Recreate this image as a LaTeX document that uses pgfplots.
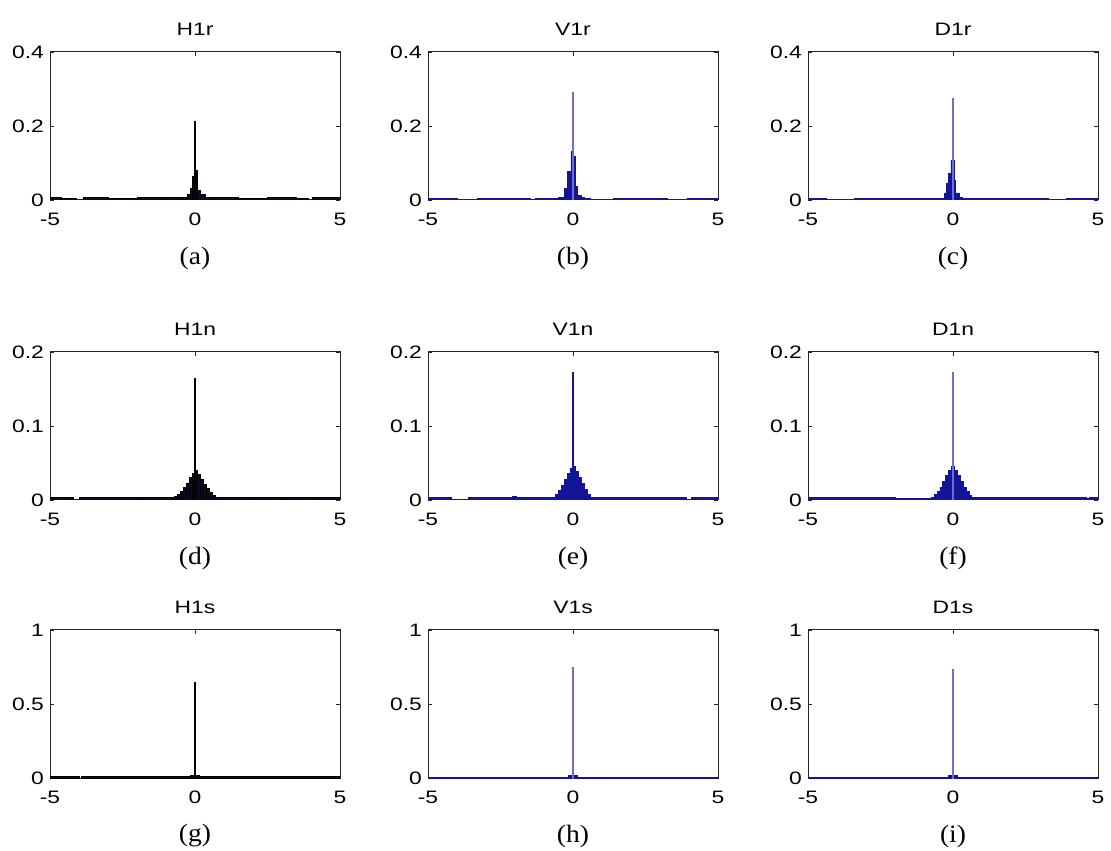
\documentclass[border=0pt]{standalone}
\usepackage{fontspec}
\setmainfont{Liberation Sans}
\newfontfamily\tickfont[FakeStretch=1.27]{Liberation Sans}
\newfontfamily\capfont[FakeStretch=1.1]{Liberation Serif}
\usepackage{pgfplots}
\pgfplotsset{compat=1.18}
\definecolor{hblack}{RGB}{10,10,35}
\definecolor{hblue}{RGB}{20,20,150}
\definecolor{hspike}{RGB}{110,110,210}

\pgfplotsset{
  panel/.style={
    scale only axis, width=145pt, height=74pt, anchor=south west,
    xmin=-5, xmax=5, ymin=0, xtick={-5,0,5},
    tick align=inside, tick pos=both, major tick length=2pt,
    axis line style={black!85, line width=0.5pt},
    tick style={black!85},
    /pgf/number format/assume math mode=true,
    ticklabel style={font=\tickfont\fontsize{9}{10}\selectfont},
    xticklabel style={yshift=-3pt},
    yticklabel style={xshift=0.5pt},
    title style={font=\tickfont\fontsize{9}{10}\selectfont, yshift=-1.5pt},
    xlabel style={font=\capfont\fontsize{12.5}{14}\selectfont,
      at={(axis description cs:0.5,0)}, anchor=center, yshift=-29pt},
  },
  kbars/.style={ybar interval, fill=hblack, draw=black, line width=0.45pt},
  bbars/.style={ybar interval, fill=hblue, draw=hblue, line width=0.45pt},
  lspike/.style={ybar interval, fill=hspike, draw=hspike, line width=0.3pt},
}

\begin{document}
\begin{tikzpicture}
\useasboundingbox (0,0) rectangle (555.5pt,425pt);

% ---- row 1 ----
\begin{axis}[panel, at={(25pt,325pt)}, ymax=0.4, ytick={0,0.2,0.4},
  title={H1r}, xlabel={(a)}]
\addplot[kbars] coordinates {(-5,0.006) (-4.6,0.005) (-4.1,0) (-3.85,0.006)
  (-3,0.005) (-2,0.006) (-1,0.006) (-0.49,0.008) (-0.26,0.014) (-0.17,0.032)
  (-0.09,0.063) (-0.01,0.063) (0.01,0.081) (0.09,0.027) (0.20,0.014)
  (0.37,0.008) (0.66,0.006) (1.5,0.005) (2.5,0.006) (3.5,0.005) (3.9,0)
  (4.05,0.006) (5,0)};
\addplot[kbars] coordinates {(-0.012,0.212) (0.012,0)};
\end{axis}

\begin{axis}[panel, at={(214pt,325pt)}, ymax=0.4, ytick={0,0.2,0.4},
  title={V1r}, xlabel={(b)}]
\addplot[bbars] coordinates {(-5,0.005) (-4.3,0.003) (-4.0,0) (-3.3,0.005)
  (-2.2,0.004) (-1.48,0) (-1.3,0.004) (-0.5,0.006) (-0.4,0.008) (-0.3,0.032)
  (-0.2,0.077) (-0.07,0.130) (-0.015,0.120) (0.015,0.117) (0.07,0.036)
  (0.17,0.013) (0.28,0.006) (0.40,0.003) (0.6,0.001) (1.38,0.005)
  (2.4,0.004) (3.24,0) (3.93,0.005) (5,0)};
\addplot[lspike] coordinates {(-0.008,0.29) (0.008,0)};
\end{axis}

\begin{axis}[panel, at={(404pt,325pt)}, ymax=0.4, ytick={0,0.2,0.4},
  title={D1r}, xlabel={(c)}]
\addplot[bbars] coordinates {(-5,0.005) (-4.35,0.002) (-4.1,0) (-3.4,0.005)
  (-2.5,0.004) (-1.5,0.005) (-0.45,0.004) (-0.30,0.019) (-0.22,0.045)
  (-0.15,0.072) (-0.07,0.108) (-0.01,0.108) (0.01,0.108) (0.04,0.054)
  (0.10,0.019) (0.22,0.006) (0.33,0.004) (1.2,0.005) (2.5,0.004)
  (3.3,0.002) (3.6,0) (3.9,0.005) (5,0)};
\addplot[lspike] coordinates {(-0.008,0.275) (0.008,0)};
\end{axis}

% ---- row 2 ----
\begin{axis}[panel, at={(25pt,175pt)}, ymax=0.2, ytick={0,0.1,0.2},
  title={H1n}, xlabel={(d)}]
\addplot[kbars] coordinates {(-5,0.003) (-4.2,0) (-4.0,0.003) (-2,0.003)
  (-0.8,0.003) (-0.7,0.005) (-0.6,0.008) (-0.5,0.012) (-0.4,0.017)
  (-0.3,0.023) (-0.2,0.030) (-0.1,0.036) (-0.01,0.040) (0.01,0.040)
  (0.1,0.034) (0.2,0.028) (0.3,0.021) (0.4,0.015) (0.5,0.010) (0.6,0.006)
  (0.7,0.004) (0.8,0.003) (2,0.003) (3,0.003) (4.2,0.003) (5,0)};
\addplot[kbars] coordinates {(-0.012,0.164) (0.012,0)};
\end{axis}

\begin{axis}[panel, at={(214pt,175pt)}, ymax=0.2, ytick={0,0.1,0.2},
  title={V1n}, xlabel={(e)}]
\addplot[bbars] coordinates {(-5,0.003) (-4.2,0) (-3.6,0.003) (-2.1,0.005)
  (-1.95,0.003) (-0.7,0.004) (-0.6,0.008) (-0.5,0.013) (-0.4,0.020)
  (-0.3,0.028) (-0.2,0.036) (-0.1,0.043) (-0.02,0.045) (0.02,0.045)
  (0.1,0.038) (0.2,0.030) (0.3,0.022) (0.4,0.014) (0.5,0.008) (0.6,0.004)
  (0.7,0.003) (3.5,0.003) (3.9,0) (4.1,0.003) (5,0)};
\addplot[bbars] coordinates {(-0.02,0.173) (0.02,0)};
\end{axis}

\begin{axis}[panel, at={(404pt,175pt)}, ymax=0.2, ytick={0,0.1,0.2},
  title={D1n}, xlabel={(f)}]
\addplot[bbars] coordinates {(-5,0.003) (-3.5,0.003) (-2,0.002)
  (-0.75,0.004) (-0.65,0.007) (-0.55,0.011) (-0.45,0.017) (-0.35,0.025)
  (-0.25,0.033) (-0.15,0.040) (-0.05,0.045) (0.05,0.040) (0.15,0.033)
  (0.25,0.025) (0.35,0.017) (0.45,0.011) (0.55,0.006) (0.65,0.003)
  (4.6,0.002) (4.7,0.003) (5,0)};
\addplot[lspike] coordinates {(-0.008,0.173) (0.008,0)};
\end{axis}

% ---- row 3 ----
\begin{axis}[panel, at={(25pt,36pt)}, ymax=1, ytick={0,0.5,1},
  title={H1s}, xlabel={(g)}]
\addplot[kbars] coordinates {(-5,0.008) (-4.0,0) (-3.9,0.008) (-0.15,0.015)
  (0.15,0.008) (5,0)};
\addplot[kbars] coordinates {(-0.015,0.648) (0.015,0)};
\end{axis}

\begin{axis}[panel, at={(214pt,36pt)}, ymax=1, ytick={0,0.5,1},
  title={V1s}, xlabel={(h)}]
\addplot[bbars] coordinates {(-5,0.006) (-0.15,0.02) (0.15,0.006) (5,0)};
\addplot[lspike] coordinates {(-0.008,0.75) (0.008,0)};
\end{axis}

\begin{axis}[panel, at={(404pt,36pt)}, ymax=1, ytick={0,0.5,1},
  title={D1s}, xlabel={(i)}]
\addplot[bbars] coordinates {(-5,0.006) (-0.15,0.02) (0.15,0.006) (5,0)};
\addplot[lspike] coordinates {(-0.008,0.735) (0.008,0)};
\end{axis}
\end{tikzpicture}
\end{document}
